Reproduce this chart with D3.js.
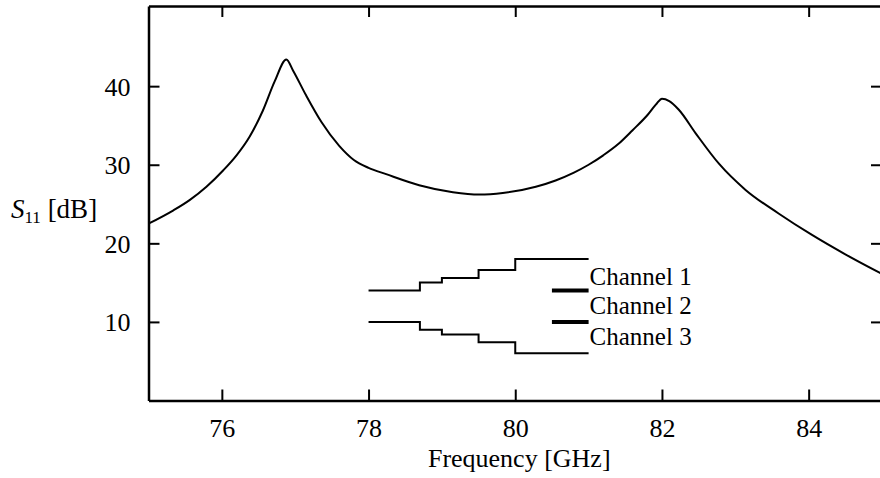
<!DOCTYPE html>
<html>
<head>
<meta charset="utf-8">
<script src="https://cdn.jsdelivr.net/npm/d3@7"></script>
<style>
  html, body { margin: 0; padding: 0; background: #fff; }
  svg text { font-family: "Liberation Serif", "Times New Roman", serif; fill: #000; }
</style>
</head>
<body>
<svg id="chart" width="880" height="478"></svg>
<script>
// S11 curve samples [GHz, dB]
const freq = [75.0, 75.34, 75.56, 75.79, 76.02, 76.2, 76.38, 76.56, 76.72, 76.88, 76.97, 77.15, 77.36, 77.6, 77.8, 78.0, 78.24, 78.69, 79.15, 79.51, 79.83, 80.28, 80.55, 80.8, 81.0, 81.2, 81.4, 81.6, 81.8, 81.93, 82.0, 82.1, 82.23, 82.46, 82.78, 83.14, 83.59, 84.04, 84.5, 85.0];
const s11  = [22.5, 24.2, 25.5, 27.2, 29.3, 31.2, 33.6, 36.9, 40.6, 43.4, 42.0, 38.8, 35.4, 32.4, 30.6, 29.6, 28.8, 27.4, 26.5, 26.2, 26.4, 27.2, 28.0, 29.0, 30.0, 31.2, 32.6, 34.4, 36.3, 37.8, 38.4, 38.1, 37.0, 34.0, 30.1, 26.8, 23.8, 21.1, 18.6, 16.1];

// Channel staircases (step edges in GHz, levels in dB)
const stepEdges = [78.0, 78.7, 79.0, 79.5, 80.0, 81.0];
const channel1Levels = [14.0, 15.0, 15.6, 16.6, 18.0];
const channel3Levels = [10.0, 9.0, 8.4, 7.4, 6.0];
const channel2Span = [80.5, 81.0];
const channel2Levels = [14.0, 10.0];
const channelNames = ["Channel 1", "Channel 2", "Channel 3"];

const xTicks = [76, 78, 80, 82, 84];
const yTicks = [10, 20, 30, 40];
const xLabel = "Frequency [GHz]";

const svg = d3.select("#chart");
const mLeft = 148.5, mRight = 882, mTop = 6, mBottom = 400.5;

const x = d3.scaleLinear().domain([75, 85]).range([mLeft, mRight]);
const y = d3.scaleLinear().domain([0, 50.2]).range([mBottom, mTop]);

const tickLen = 11;

// Axes with inward ticks
const gB = svg.append("g").attr("transform", `translate(0,${mBottom})`)
  .call(d3.axisBottom(x).tickValues(xTicks).tickSizeInner(-tickLen).tickSizeOuter(0).tickFormat(d3.format("d")));
const gT = svg.append("g").attr("transform", `translate(0,${mTop})`)
  .call(d3.axisTop(x).tickValues(xTicks).tickSizeInner(-tickLen).tickSizeOuter(0).tickFormat(""));
const gL = svg.append("g").attr("transform", `translate(${mLeft},0)`)
  .call(d3.axisLeft(y).tickValues(yTicks).tickSizeInner(-tickLen).tickSizeOuter(0).tickFormat(d3.format("d")));
const gR = svg.append("g").attr("transform", `translate(${mRight},0)`)
  .call(d3.axisRight(y).tickValues(yTicks).tickSizeInner(-tickLen).tickSizeOuter(0).tickFormat(""));

[gB, gT, gL, gR].forEach(g => {
  g.select(".domain").attr("stroke", "#000").attr("stroke-width", 2.5);
  g.selectAll(".tick line").attr("stroke", "#000").attr("stroke-width", 2);
  g.selectAll(".tick text").attr("font-size", 26).attr("fill", "#000")
    .style("font-family", '"Liberation Serif", serif');
});
gB.selectAll(".tick text").attr("dy", 0).attr("y", 36);
gL.selectAll(".tick text").attr("dy", "0.34em").attr("x", -18);

// S11 curve
const line = d3.line().x((d, i) => x(freq[i])).y(d => y(d)).curve(d3.curveMonotoneX);
svg.append("path").datum(s11).attr("d", line)
  .attr("fill", "none").attr("stroke", "#000").attr("stroke-width", 2);

// Staircases
const stair = d3.line().x(d => x(d[0])).y(d => y(d[1])).curve(d3.curveStepAfter);
function stairData(levels) {
  const pts = levels.map((v, i) => [stepEdges[i], v]);
  pts.push([stepEdges[stepEdges.length - 1], levels[levels.length - 1]]);
  return pts;
}
[channel1Levels, channel3Levels].forEach(lv => {
  svg.append("path").datum(stairData(lv)).attr("d", stair)
    .attr("fill", "none").attr("stroke", "#000").attr("stroke-width", 2);
});
channel2Levels.forEach(v => {
  svg.append("line")
    .attr("x1", x(channel2Span[0])).attr("x2", x(channel2Span[1]))
    .attr("y1", y(v)).attr("y2", y(v))
    .attr("stroke", "#000").attr("stroke-width", 4);
});

// Channel labels
const labelBase = [285, 314, 345];
channelNames.forEach((n, i) => {
  svg.append("text").attr("x", x(81.0) + 1).attr("y", labelBase[i])
    .attr("font-size", 25).text(n);
});

// Axis titles
svg.append("text").attr("x", (x(75) + x(85)) / 2 + 4).attr("y", 467)
  .attr("text-anchor", "middle").attr("font-size", 26).text(xLabel);

const yl = svg.append("text").attr("x", 11).attr("y", 218).attr("font-size", 27);
yl.append("tspan").attr("font-style", "italic").text("S");
yl.append("tspan").attr("font-size", 17).attr("dy", 5).text("11");
yl.append("tspan").attr("dy", -5).text(" [dB]");
</script>
</body>
</html>
